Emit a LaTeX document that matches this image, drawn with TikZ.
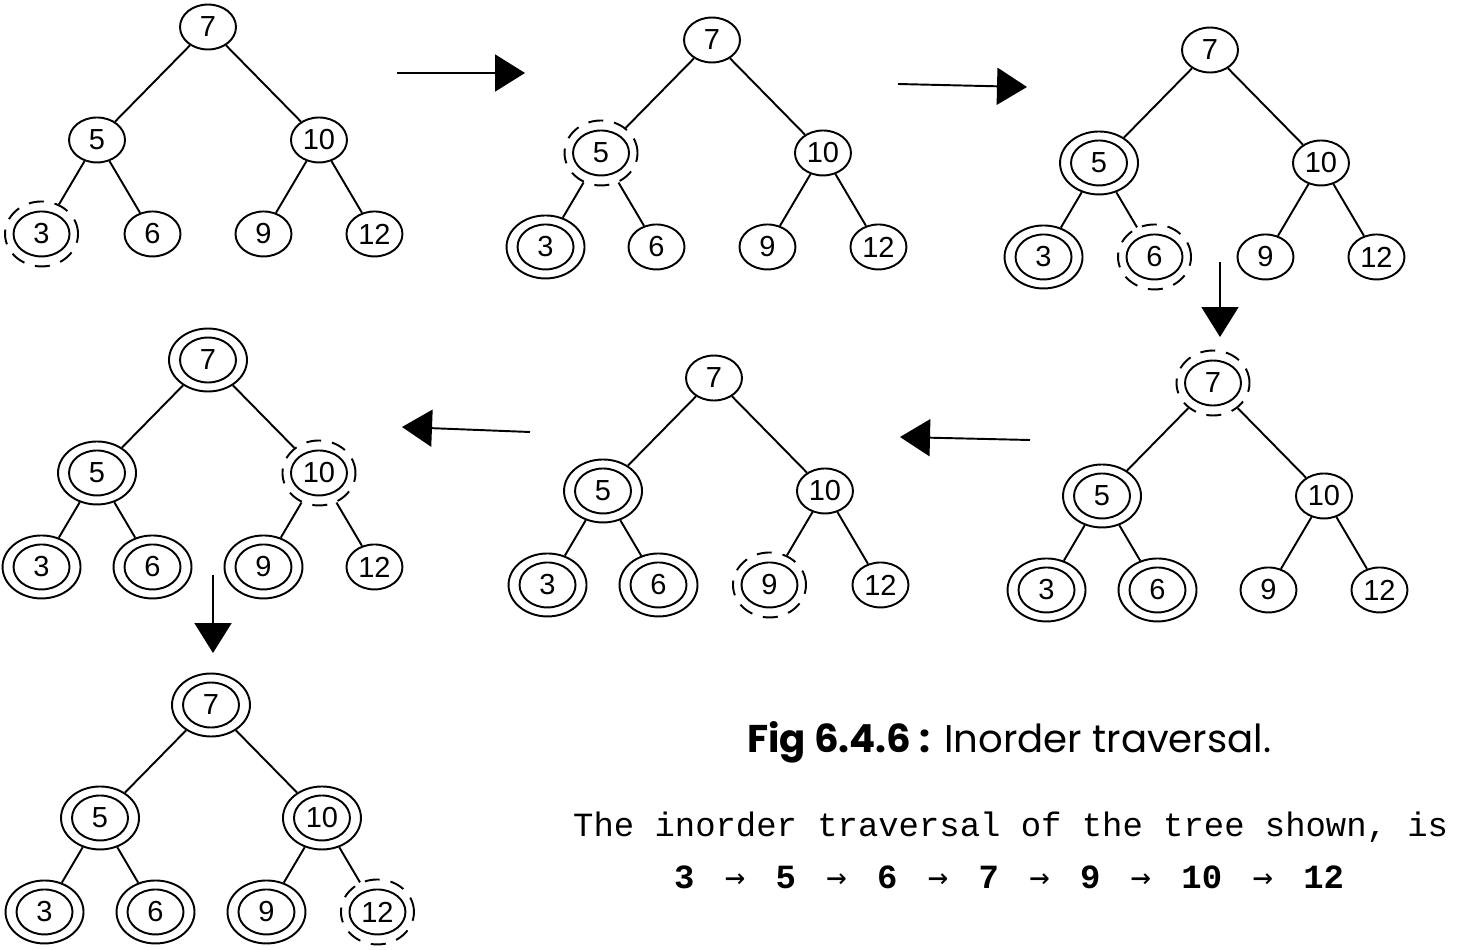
\documentclass[tikz,border=0pt]{standalone}
\usepackage{fontspec}
\setmonofont{Liberation Mono}
\newfontfamily\digitfont{Liberation Sans}
\newfontfamily\capfont{Poppins}
\newfontfamily\arrowfont{DejaVu Sans Mono}
\usetikzlibrary{shapes.geometric,arrows.meta}

\tikzset{
  todo/.style={ellipse, draw, line width=1.1pt, inner sep=0pt,
    minimum width=1.12cm, minimum height=0.9cm,
    font=\digitfont\fontsize{16.5}{18}\selectfont},
  done/.style={todo, minimum width=1.56cm, minimum height=1.26cm,
    path picture={\draw[line width=1.1pt] (path picture bounding box.center)
      ellipse [x radius=0.56cm, y radius=0.45cm];}},
  cur/.style={todo, minimum width=1.46cm, minimum height=1.3cm,
    dash pattern=on 0.3cm off 0.22cm,
    path picture={\draw[solid, line width=1.1pt] (path picture bounding box.center)
      ellipse [x radius=0.56cm, y radius=0.45cm];}},
  flow/.style={line width=1.1pt, -{Triangle[length=0.6cm, width=0.74cm]}}
}

% #1 name prefix, #2 root position, #3..#9 look of 7,5,10,3,6,9,12
\newcommand{\inordertree}[9]{
\node[#3] (#1-7) at (#2) {7}
  child { node[#4] (#1-5) {5}
    child { node[#6] (#1-3) {3}}
    child { node[#7] (#1-6) {6}}
  }
  child { node[#5] (#1-10) {10}
    child { node[#8] (#1-9) {9}}
    child { node[#9] (#1-12) {12}}
  };
}
\newcommand{\nxt}{\hspace{0.2cm}\ {\arrowfont\mdseries →}\ \hspace{0.2cm}}

\begin{document}
\begin{tikzpicture}[x=0.02cm, y=-0.02cm, level distance=2.26cm,
  edge from parent/.style={draw, line width=1.1pt}]
\tikzstyle{level 1}=[sibling distance=4.44cm]
\tikzstyle{level 2}=[level distance=1.88cm, sibling distance=2.22cm]
\useasboundingbox (0,0) rectangle (1458,950);

% the seven steps of the walk
\inordertree{a}{208,27}{todo}{todo}{todo}{cur}{todo}{todo}{todo}
\inordertree{b}{712,40}{todo}{cur}{todo}{done}{todo}{todo}{todo}
\inordertree{c}{1210,50}{todo}{done}{todo}{done}{cur}{todo}{todo}
\inordertree{d}{1213,383}{cur}{done}{todo}{done}{done}{todo}{todo}
\inordertree{e}{714,378}{todo}{done}{todo}{done}{done}{cur}{todo}
\inordertree{f}{208,360}{done}{done}{cur}{done}{done}{done}{todo}
\inordertree{g}{211,705}{done}{done}{done}{done}{done}{done}{cur}

% arrows between the steps
\coordinate (ab-s) at (397,73);   \coordinate (ab-e) at (525,73);
\coordinate (bc-s) at (898,84);   \coordinate (bc-e) at (1027,87);
\coordinate (cd-s) at (1220,262); \coordinate (cd-e) at (1220,337);
\coordinate (de-s) at (1030,440); \coordinate (de-e) at (900,437);
\coordinate (ef-s) at (530,432);  \coordinate (ef-e) at (402,427);
\coordinate (fg-s) at (213,575);  \coordinate (fg-e) at (213,653);
\draw[flow] (ab-s) -- (ab-e);
\draw[flow] (bc-s) -- (bc-e);
\draw[flow] (cd-s) -- (cd-e);
\draw[flow] (de-s) -- (de-e);
\draw[flow] (ef-s) -- (ef-e);
\draw[flow] (fg-s) -- (fg-e);

\node[anchor=base west, font=\capfont\fontsize{22}{24}\selectfont] (caption)
  at (741,752) {\textbf{Fig 6.4.6 :} Inorder traversal.};
\node[anchor=base west, font=\ttfamily\fontsize{19.3}{22}\selectfont] (remark)
  at (567,836) {The inorder traversal of the tree shown, is};
\node[anchor=base west, font=\ttfamily\bfseries\fontsize{19.3}{22}\selectfont] (order)
  at (668,888) {3\nxt 5\nxt 6\nxt 7\nxt 9\nxt 10\nxt 12};
\end{tikzpicture}
\end{document}
